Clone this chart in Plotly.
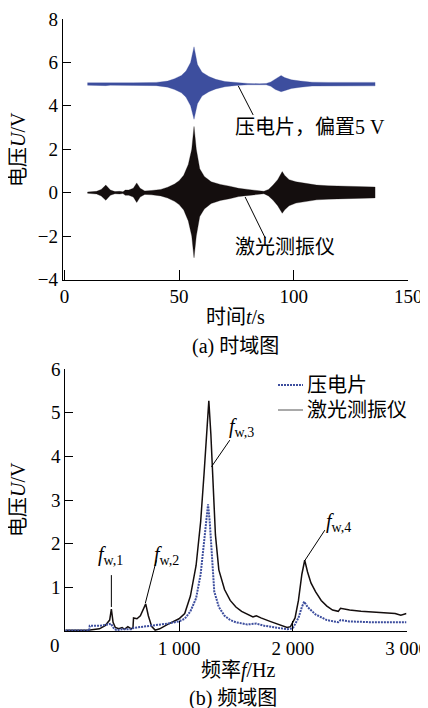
import plotly.graph_objects as go

# ---------------- (a) time domain: envelopes of the recorded signals ----------------
t_black = [10, 14, 16, 18, 20, 22, 24, 25.5, 26.5, 28, 30, 31.5, 33, 35, 38, 42, 45, 48, 50,
           52, 54, 55.5, 56.5, 57.5, 59, 61, 64, 68, 72, 76, 80, 84, 87, 89, 91, 93, 95, 96,
           98, 101, 105, 110, 115, 120, 125, 130, 135.5]
black_hi = [0.03, 0.06, 0.15, 0.35, 0.12, 0.05, 0.06, 0.04, 0.12, 0.12, 0.2, 0.45, 0.2, 0.08,
            0.1, 0.15, 0.25, 0.4, 0.55, 0.8, 1.3, 2.0, 3.05, 2.0, 1.1, 0.75, 0.5, 0.38, 0.3,
            0.2, 0.15, 0.1, 0.06, 0.15, 0.35, 0.6, 0.97, 0.8, 0.6, 0.5, 0.42, 0.35, 0.32, 0.3,
            0.28, 0.27, 0.26]
black_lo = [-0.03, -0.06, -0.15, -0.35, -0.12, -0.05, -0.06, -0.04, -0.12, -0.12, -0.2, -0.45,
            -0.2, -0.08, -0.1, -0.15, -0.25, -0.4, -0.55, -0.8, -1.3, -2.0, -3.0, -2.0, -1.1,
            -0.75, -0.5, -0.36, -0.28, -0.18, -0.13, -0.09, -0.05, -0.15, -0.35, -0.6, -0.95,
            -0.8, -0.6, -0.48, -0.4, -0.33, -0.3, -0.27, -0.26, -0.25, -0.24]

t_blue = [10, 18, 20, 30, 40, 45, 48, 51, 53, 55, 56.5, 58, 60, 63, 66, 70, 75, 80, 85, 88,
          90, 92, 94.5, 96, 99, 103, 108, 115, 135.5]
blue_hi = [5.06, 5.08, 5.06, 5.06, 5.08, 5.14, 5.25, 5.4, 5.6, 6.0, 6.72, 5.9, 5.55, 5.35,
           5.22, 5.12, 5.06, 5.03, 5.02, 5.03, 5.1, 5.25, 5.4, 5.3, 5.2, 5.14, 5.09, 5.08, 5.08]
blue_lo = [4.95, 4.93, 4.95, 4.95, 4.93, 4.86, 4.75, 4.6, 4.4, 4.0, 3.38, 4.1, 4.45, 4.65,
           4.78, 4.88, 4.94, 4.97, 4.98, 4.97, 4.9, 4.75, 4.65, 4.7, 4.8, 4.86, 4.91, 4.92, 4.92]

# ---------------- (b) frequency domain ----------------
freq_black = [0, 100, 200, 300, 350, 390, 405, 420, 440, 470, 500, 520, 550, 580, 595, 600,
              630, 660, 690, 707, 730, 760, 790, 830, 900, 950, 1000, 1050, 1100, 1150, 1190,
              1220, 1245, 1262, 1280, 1300, 1320, 1350, 1400, 1450, 1500, 1550, 1600, 1650,
              1680, 1720, 1800, 1900, 1950, 1980, 2020, 2050, 2080, 2105, 2130, 2160, 2200,
              2250, 2300, 2350, 2400, 2420, 2500, 2600, 2700, 2800, 2900, 2950, 3000]
amp_black = [0.02, 0.02, 0.02, 0.05, 0.12, 0.25, 0.5, 0.2, 0.08, 0.05, 0.08, 0.04, 0.1, 0.05,
             0.08, 0.3, 0.28, 0.35, 0.5, 0.62, 0.35, 0.1, 0.02, 0.05, 0.15, 0.22, 0.28, 0.4,
             0.8, 1.5, 2.5, 3.6, 4.6, 5.27, 4.5, 3.4, 2.2, 1.4, 0.95, 0.7, 0.55, 0.45, 0.38,
             0.32, 0.35, 0.3, 0.22, 0.12, 0.08, 0.1, 0.3, 0.7, 1.3, 1.62, 1.35, 1.1, 0.9, 0.7,
             0.57, 0.48, 0.45, 0.52, 0.48, 0.45, 0.43, 0.42, 0.4, 0.36, 0.4]

freq_blue = [0, 210, 215, 300, 380, 400, 430, 450, 500, 580, 600, 700, 800, 900, 1000, 1050,
             1100, 1150, 1190, 1220, 1245, 1255, 1270, 1290, 1310, 1350, 1400, 1450, 1500,
             1600, 1680, 1750, 1850, 1950, 2000, 2050, 2080, 2100, 2130, 2200, 2300, 2400,
             2420, 2500, 2700, 3000]
amp_blue = [0.01, 0.01, 0.12, 0.12, 0.15, 0.17, 0.05, 0.02, 0.04, 0.04, 0.07, 0.1, 0.13, 0.17,
            0.22, 0.28, 0.45, 0.75, 1.3, 2.0, 2.7, 2.9, 2.5, 1.6, 0.9, 0.55, 0.35, 0.25, 0.2,
            0.15, 0.17, 0.12, 0.08, 0.04, 0.06, 0.3, 0.55, 0.67, 0.55, 0.38, 0.25, 0.2, 0.25,
            0.22, 0.2, 0.2]

series_names = ["压电片", "激光测振仪"]

top_yticks = [-4, -2, 0, 2, 4, 6, 8]
top_yticktext = ["−4", "−2", "0", "2", "4", "6", "8"]
top_xticks = [0, 50, 100, 150]
bot_yticks = [1, 2, 3, 4, 5, 6]
bot_xticks = [1000, 2000, 3000]
bot_xticktext = ["1 000", "2 000", "3 000"]

BLUE = "#3D4E9E"
BLACK = "#140e0e"
FONT = "Liberation Serif, Noto Sans CJK SC, serif"

OFF = 8              # page body margin offset
W, H = 420, 700
def px(x):
    return (x - OFF) / W
def py(y):
    return 1 - (y - OFF) / H

fig = go.Figure()

fig.add_trace(go.Scatter(x=t_blue + t_blue[::-1], y=blue_hi + blue_lo[::-1], fill="toself",
                         fillcolor=BLUE, line=dict(color=BLUE, width=0.3), mode="lines",
                         showlegend=False, xaxis="x", yaxis="y", hoverinfo="skip"))
fig.add_trace(go.Scatter(x=t_black + t_black[::-1], y=black_hi + black_lo[::-1], fill="toself",
                         fillcolor=BLACK, line=dict(color=BLACK, width=0.3), mode="lines",
                         showlegend=False, xaxis="x", yaxis="y", hoverinfo="skip"))

fig.add_trace(go.Scatter(x=freq_black, y=amp_black, mode="lines", name=series_names[1],
                         line=dict(color=BLACK, width=1.5), xaxis="x2", yaxis="y2",
                         showlegend=False))
fig.add_trace(go.Scatter(x=freq_blue, y=amp_blue, mode="lines", name=series_names[0],
                         line=dict(color=BLUE, width=2, dash="2px,1px"), xaxis="x2", yaxis="y2",
                         showlegend=False))

axis_common = dict(showline=True, linecolor="black", linewidth=1, ticks="inside",
                   tickcolor="black", showgrid=False, zeroline=False, automargin=False,
                   tickfont=dict(family=FONT, size=19, color="black"))

fig.update_layout(
    template="none",
    width=W, height=H, margin=dict(l=0, r=0, t=0, b=0, autoexpand=False),
    paper_bgcolor="white", plot_bgcolor="white",
    font=dict(family=FONT, size=19, color="black"),
    showlegend=False,
    xaxis=dict(domain=[px(62.7), px(408.3)], range=[-0.8, 150], tickvals=top_xticks,
               ticklen=10, anchor="y", **axis_common),
    yaxis=dict(domain=[py(279.5), py(19)], range=[-4, 8], tickvals=top_yticks,
               ticktext=top_yticktext, ticklen=8, anchor="x", **axis_common),
    xaxis2=dict(domain=[px(65.3), px(406.5)], range=[0, 3000], tickvals=bot_xticks,
                ticktext=bot_xticktext, ticklen=10, anchor="y2", **axis_common),
    yaxis2=dict(domain=[py(631), py(369)], range=[0, 6], tickvals=bot_yticks, ticklen=8,
                anchor="x2", **axis_common),
)

ann = []
def txt(text, x, y, size=20, xanchor="center", angle=0, ref=("paper", "paper")):
    ann.append(dict(text=text, x=x, y=y, xref=ref[0], yref=ref[1], showarrow=False,
                    xanchor=xanchor, yanchor="middle", textangle=angle,
                    font=dict(family=FONT, size=size, color="black")))

# axis titles and captions
txt("电压<i>U</i>/V", px(18), py(150), angle=-90)
txt("时间<i>t</i>/s", px(236), py(317))
txt("(a) 时域图", px(235), py(347))
txt("电压<i>U</i>/V", px(18), py(500), angle=-90)
txt("频率<i>f</i>/Hz", px(238), py(670))
txt("(b) 频域图", px(233), py(698))
txt("0", px(55), py(645), size=19)

# manual legend (bottom panel)
txt(series_names[0], px(305), py(385), xanchor="left")
txt(series_names[1], px(305), py(410), xanchor="left")
fig.add_shape(type="line", xref="paper", yref="paper", x0=px(278), x1=px(303),
              y0=py(385), y1=py(385), line=dict(color=BLUE, width=2, dash="2px,1px"))
fig.add_shape(type="line", xref="paper", yref="paper", x0=px(278), x1=px(303),
              y0=py(410), y1=py(410), line=dict(color="#555555", width=1))

# series labels (top)
txt("压电片，偏置5 V", 73.6, 3.03, xanchor="left", ref=("x", "y"))
txt("激光测振仪", 73.6, -2.5, xanchor="left", ref=("x", "y"))

# peak labels (bottom)
txt("<i>f</i><sub>w,1</sub>", 400, 1.74, ref=("x2", "y2"))
txt("<i>f</i><sub>w,2</sub>", 891, 1.74, ref=("x2", "y2"))
txt("<i>f</i><sub>w,3</sub>", 1551, 4.65, ref=("x2", "y2"))
txt("<i>f</i><sub>w,4</sub>", 2404, 2.49, ref=("x2", "y2"))
fig.update_layout(annotations=ann)

leaders = [
    ("x", "y", 75.8, 4.92, 82.3, 3.58),
    ("x", "y", 78.8, -0.2, 87.6, -2.09),
    ("x2", "y2", 405, 1.28, 405, 0.55),
    ("x2", "y2", 801, 1.62, 704, 0.64),
    ("x2", "y2", 1446, 4.37, 1285, 3.76),
    ("x2", "y2", 2282, 2.31, 2105, 1.61),
]
for xr, yr, x0, y0, x1, y1 in leaders:
    fig.add_shape(type="line", xref=xr, yref=yr, x0=x0, y0=y0, x1=x1, y1=y1,
                  line=dict(color="black", width=1))

fig.write_html("out.html")
